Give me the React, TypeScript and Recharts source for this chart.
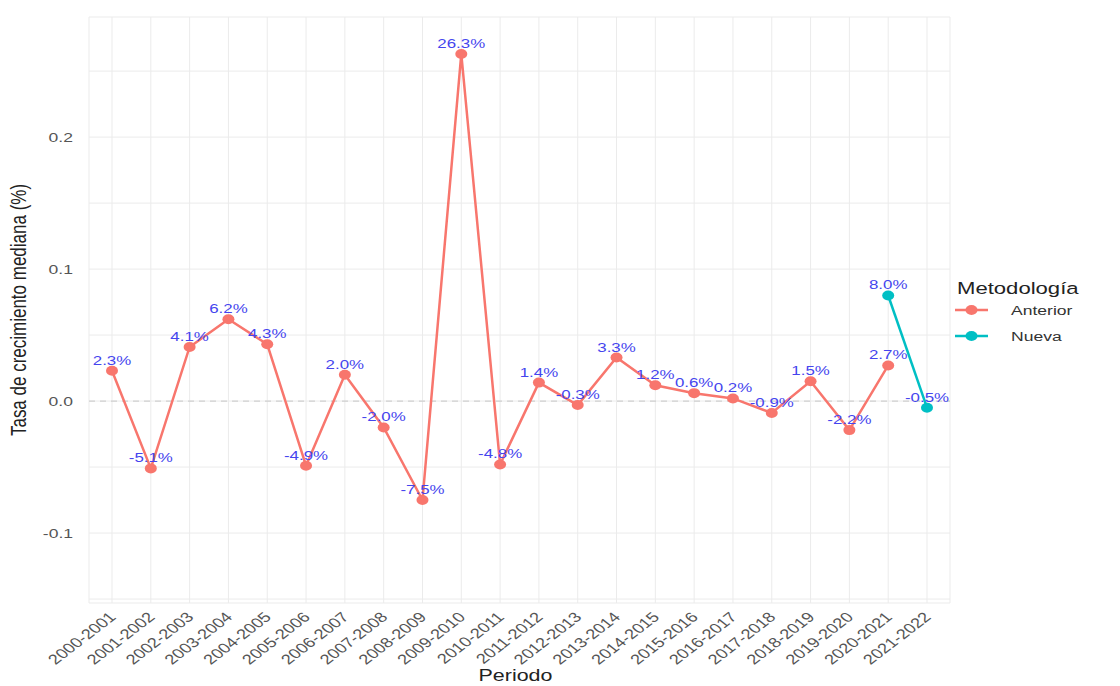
import {
  LineChart, Line, XAxis, YAxis, CartesianGrid, ReferenceLine, Legend, LabelList, Label,
} from 'recharts';

const periodos = [
  '2000-2001', '2001-2002', '2002-2003', '2003-2004', '2004-2005', '2005-2006',
  '2006-2007', '2007-2008', '2008-2009', '2009-2010', '2010-2011', '2011-2012',
  '2012-2013', '2013-2014', '2014-2015', '2015-2016', '2016-2017', '2017-2018',
  '2018-2019', '2019-2020', '2020-2021', '2021-2022',
];

const anterior = [
  0.023, -0.051, 0.041, 0.062, 0.043, -0.049, 0.020, -0.020, -0.075, 0.263, -0.048,
  0.014, -0.003, 0.033, 0.012, 0.006, 0.002, -0.009, 0.015, -0.022, 0.027, null,
];

const nueva = [
  null, null, null, null, null, null, null, null, null, null, null,
  null, null, null, null, null, null, null, null, null, 0.080, -0.005,
];

const yTicks = [-0.15, -0.1, -0.05, 0, 0.05, 0.1, 0.15, 0.2, 0.25];
const yLabeled = [-0.1, 0, 0.1, 0.2];

const series = [
  { key: 'Anterior', color: '#F8766D' },
  { key: 'Nueva', color: '#00BFC4' },
];

const FONT = '"Liberation Sans", Arial, sans-serif';
// the reference picture is stretched sideways, text follows it
const SX = 1.3;

const data = periodos.map((p, i) => ({ periodo: p, Anterior: anterior[i], Nueva: nueva[i] }));

const pct = (v: number) => `${(v * 100).toFixed(1)}%`;
const stretch = (x: number, y: number, extra = '') =>
  `translate(${x} ${y}) scale(${SX} 1)${extra ? ' ' + extra : ''}`;

function XTick({ x, y, payload }: any) {
  return (
    <text transform={stretch(x + 5, y + 15, 'rotate(-45)')} textAnchor="end"
      fontSize={14} fill="#555" fontFamily={FONT}>
      {payload.value}
    </text>
  );
}

function YTick({ x, y, payload }: any) {
  if (!yLabeled.includes(payload.value)) return null;
  return (
    <text transform={stretch(x, y)} textAnchor="end" dy="0.35em"
      fontSize={13.5} fill="#555" fontFamily={FONT}>
      {payload.value.toFixed(1)}
    </text>
  );
}

function YTitle(props: any) {
  const vb = props.viewBox;
  return (
    <text transform={stretch(18, vb.y + vb.height / 2, 'rotate(-90)')} textAnchor="middle"
      dy="0.35em" fontSize={17} fill="#222" fontFamily={FONT}>
      Tasa de crecimiento mediana (%)
    </text>
  );
}

function XTitle(props: any) {
  const vb = props.viewBox;
  return (
    <text transform={stretch(vb.x + vb.width / 2 - 4, vb.y + vb.height - 5)} textAnchor="middle"
      fontSize={16.5} fill="#222" fontFamily={FONT}>
      Periodo
    </text>
  );
}

function ValueLabel(props: any) {
  const vb = props.viewBox ?? {};
  const x = props.x ?? vb.x;
  const y = props.y ?? vb.y;
  if (props.value == null || x == null || y == null) return null;
  return (
    <text transform={stretch(x, y - 6)} textAnchor="middle" fontSize={13}
      fill="#4545ee" fontFamily={FONT}>
      {pct(props.value)}
    </text>
  );
}

const makeDot = (color: string) => (props: any) => {
  const { cx, cy, index, value } = props;
  if (cx == null || cy == null || value == null) return <g key={`d-${index}`} />;
  return <ellipse key={`d-${index}`} cx={cx} cy={cy} rx={6} ry={5} fill={color} />;
};

function LegendBox() {
  return (
    <svg width={170} height={80} style={{ display: 'block' }}>
      <text transform={stretch(7, 22)} fontSize={17} fill="#222" fontFamily={FONT}>Metodología</text>
      {series.map((s, i) => {
        const cy = 38 + i * 26;
        return (
          <g key={s.key}>
            <line x1={5} x2={38} y1={cy} y2={cy} stroke={s.color} strokeWidth={2.5} />
            <ellipse cx={21.5} cy={cy} rx={6} ry={5} fill={s.color} />
            <text transform={stretch(61, cy + 5)} fontSize={13.5} fill="#333" fontFamily={FONT}>{s.key}</text>
          </g>
        );
      })}
    </svg>
  );
}

export default function App() {
  return (
    <div style={{ position: 'absolute', left: 0, top: 0, width: 1120, height: 686, background: '#fff' }}>
      <LineChart width={1120} height={686} data={data} margin={{ top: 17, right: 170, bottom: 0, left: 0 }}>
        <CartesianGrid stroke="#ebebeb" strokeWidth={1} />
        <XAxis
          dataKey="periodo"
          interval={0}
          padding={{ left: 23, right: 23 }}
          tickLine={false}
          axisLine={false}
          tickSize={0}
          tickMargin={0}
          height={83}
          tick={XTick}
        >
          <Label content={XTitle} />
        </XAxis>
        <YAxis
          type="number"
          domain={[-0.153, 0.291]}
          allowDataOverflow
          ticks={yTicks}
          interval={0}
          tickLine={false}
          axisLine={false}
          tickSize={0}
          tickMargin={16}
          width={89}
          tick={YTick}
        >
          <Label content={YTitle} />
        </YAxis>
        <ReferenceLine y={0} stroke="#cfcfcf" strokeDasharray="6 5" strokeWidth={1.3} />
        <Legend
          layout="vertical"
          align="center"
          verticalAlign="middle"
          wrapperStyle={{ left: 950, top: 272, width: 170 }}
          content={LegendBox}
        />
        {series.map((s) => (
          <Line
            key={s.key}
            type="linear"
            dataKey={s.key}
            stroke={s.color}
            strokeWidth={2.5}
            dot={makeDot(s.color)}
            activeDot={false}
            connectNulls={false}
            isAnimationActive={false}
          >
            <LabelList dataKey={s.key} content={ValueLabel} />
          </Line>
        ))}
      </LineChart>
    </div>
  );
}
